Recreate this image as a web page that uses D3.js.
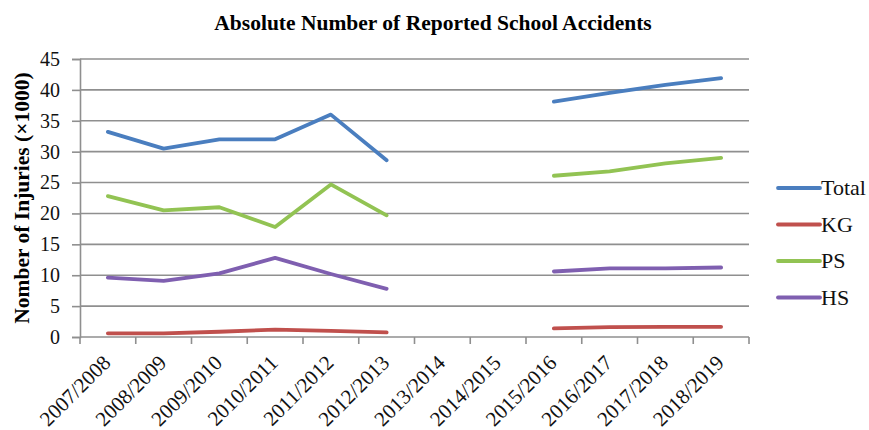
<!DOCTYPE html>
<html>
<head>
<meta charset="utf-8">
<script src="https://cdn.jsdelivr.net/npm/d3@7"></script>
<style>
body { margin: 0; background: #fff; }
text { font-family: "Liberation Serif", "Times New Roman", serif; }
</style>
</head>
<body>
<script>

var years = ["2007/2008", "2008/2009", "2009/2010", "2010/2011", "2011/2012", "2012/2013",
             "2013/2014", "2014/2015", "2015/2016", "2016/2017", "2017/2018", "2018/2019"];

var total = [33.2, 30.5, 32.0, 32.0, 36.0, 28.6, null, null, 38.1, 39.5, 40.8, 41.9];
var kg    = [0.6, 0.6, 0.85, 1.2, 1.0, 0.75, null, null, 1.4, 1.6, 1.65, 1.65];
var ps    = [22.8, 20.5, 21.0, 17.8, 24.7, 19.7, null, null, 26.1, 26.8, 28.1, 29.0];
var hs    = [9.6, 9.1, 10.3, 12.8, 10.2, 7.8, null, null, 10.6, 11.1, 11.1, 11.25];

var yTicks = [0, 5, 10, 15, 20, 25, 30, 35, 40, 45];

var series = [
  { name: "Total", values: total, color: "#4a7ebf" },
  { name: "KG",    values: kg,    color: "#c0504d" },
  { name: "PS",    values: ps,    color: "#92c353" },
  { name: "HS",    values: hs,    color: "#7f5fb0" }
];

var width = 869;
var height = 430;

var svg = d3.select("body").append("svg")
      .attr("width", width)
      .attr("height", height);

var x = d3.scaleBand().domain(years).range([80, 749]);
var y = d3.scaleLinear().domain([0, 45]).range([337, 59]);

// title
svg.append("text")
  .attr("x", 433)
  .attr("y", 30)
  .attr("text-anchor", "middle")
  .attr("font-weight", "bold")
  .attr("font-size", 21.5)
  .text("Absolute Number of Reported School Accidents");

// grid lines
svg.append("g").selectAll("line").data(yTicks.slice(1))
  .enter().append("line")
  .attr("x1", 80).attr("x2", 749)
  .attr("y1", function(d){ return y(d); })
  .attr("y2", function(d){ return y(d); })
  .attr("stroke", "#8f8f8f")
  .attr("stroke-width", 1.6);

// y axis
var yAxis = svg.append("g")
  .attr("transform", "translate(80,0)")
  .call(d3.axisLeft(y).tickValues(yTicks).tickSize(8).tickPadding(12));
yAxis.select(".domain").attr("stroke", "#8f8f8f").attr("stroke-width", 1.6);
yAxis.selectAll(".tick line").attr("stroke", "#8f8f8f").attr("stroke-width", 1.6);
yAxis.selectAll("text")
  .attr("font-family", "Liberation Serif")
  .attr("font-size", 20)
  .attr("fill", "#111");

// x axis with ticks on band edges
var xAxis = svg.append("g")
  .attr("transform", "translate(0,337)");
xAxis.append("line")
  .attr("x1", 80).attr("x2", 749)
  .attr("stroke", "#8f8f8f").attr("stroke-width", 1.6);
xAxis.selectAll(".edge").data(years.concat(["end"]))
  .enter().append("line")
  .attr("class", "edge")
  .attr("x1", function(d, i){ return i < years.length ? x(d) : x.range()[1]; })
  .attr("x2", function(d, i){ return i < years.length ? x(d) : x.range()[1]; })
  .attr("y1", 0).attr("y2", 7)
  .attr("stroke", "#8f8f8f").attr("stroke-width", 1.6);
xAxis.selectAll(".lab").data(years)
  .enter().append("text")
  .attr("class", "lab")
  .attr("text-anchor", "end")
  .attr("font-size", 21)
  .attr("fill", "#111")
  .attr("transform", function(d){
    return "translate(" + (x(d) + x.bandwidth() / 2 + 4) + ",27) rotate(-45)";
  })
  .text(function(d){ return d; });

// y axis title
svg.append("text")
  .attr("transform", "translate(29,198) rotate(-90)")
  .attr("text-anchor", "middle")
  .attr("font-weight", "bold")
  .attr("font-size", 21.5)
  .text("Nomber of Injuries (\u00d71000)");

// lines
var line = d3.line()
  .defined(function(d){ return d != null; })
  .x(function(d, i){ return x(years[i]) + x.bandwidth() / 2; })
  .y(function(d){ return y(d); });

svg.append("g").selectAll("path").data(series)
  .enter().append("path")
  .attr("d", function(d){ return line(d.values); })
  .attr("fill", "none")
  .attr("stroke", function(d){ return d.color; })
  .attr("stroke-width", 3.8)
  .attr("stroke-linejoin", "round")
  .attr("stroke-linecap", "round");

// legend
var legend = svg.append("g").selectAll("g").data(series)
  .enter().append("g")
  .attr("transform", function(d, i){ return "translate(778," + (188 + i * 36.5) + ")"; });
legend.append("line")
  .attr("x1", 0).attr("x2", 42)
  .attr("stroke", function(d){ return d.color; })
  .attr("stroke-width", 3.8)
  .attr("stroke-linecap", "round");
legend.append("text")
  .attr("x", 43)
  .attr("y", 7)
  .attr("font-size", 22)
  .attr("fill", "#111")
  .text(function(d){ return d.name; });

</script>
</body>
</html>
